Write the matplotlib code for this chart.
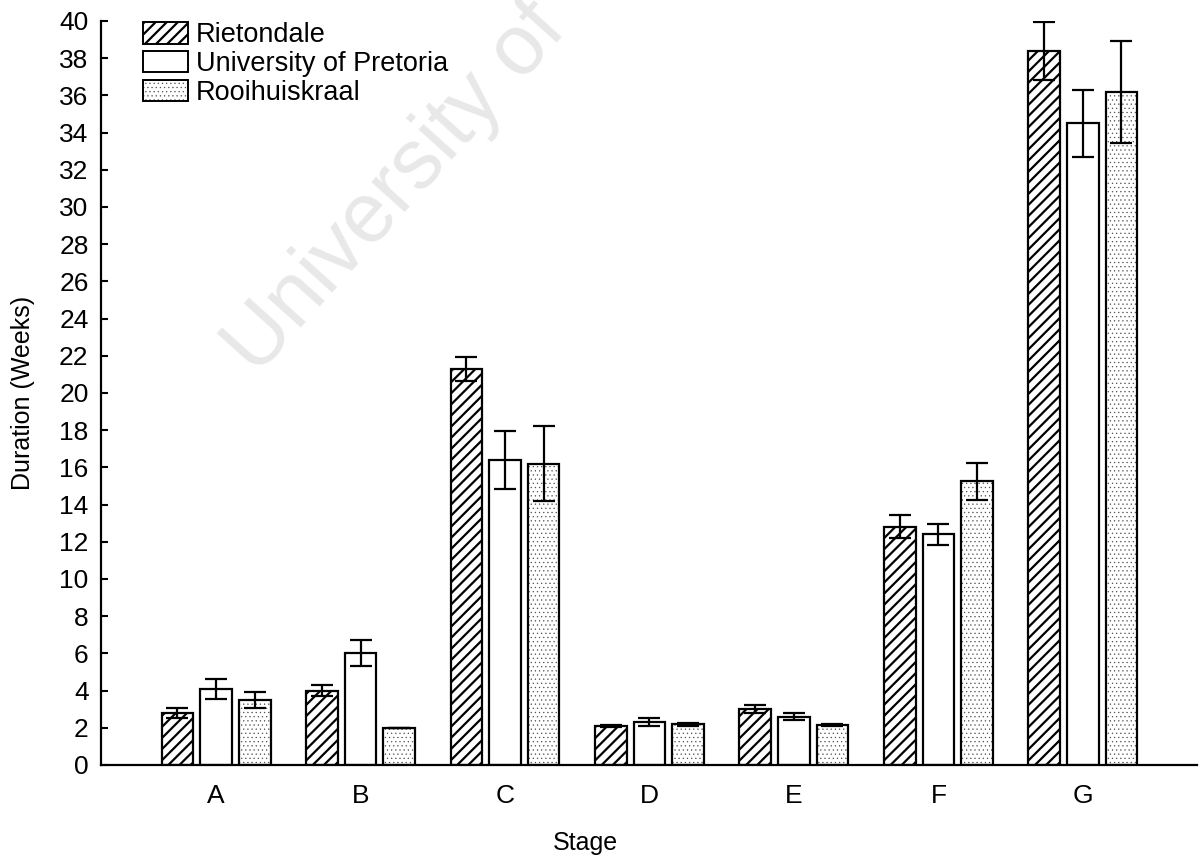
import matplotlib
matplotlib.use("Agg")
import matplotlib.pyplot as plt
from matplotlib.patches import Patch
from matplotlib.legend_handler import HandlerTuple
import numpy as np

stages = ["A", "B", "C", "D", "E", "F", "G"]
series_names = ["Rietondale", "University of Pretoria", "Rooihuiskraal"]

rietondale = [2.8, 4.0, 21.3, 2.1, 3.0, 12.8, 38.4]
rietondale_err = [0.28, 0.3, 0.65, 0.05, 0.2, 0.62, 1.55]
pretoria = [4.1, 6.0, 16.4, 2.3, 2.6, 12.4, 34.5]
pretoria_err = [0.53, 0.7, 1.57, 0.2, 0.17, 0.58, 1.8]
rooihuiskraal = [3.5, 2.0, 16.2, 2.2, 2.15, 15.25, 36.2]
rooihuiskraal_err = [0.42, 0.0, 2.0, 0.08, 0.06, 1.0, 2.75]

yticks = np.arange(0, 41, 2)

plt.rcParams['font.family'] = ['Liberation Sans', 'DejaVu Sans']
plt.rcParams['hatch.linewidth'] = 1.6

DOT_COLOR = '#505050'


def thin_hatch(artists, lw=0.4):
    # dotted fill wants finer strokes than the diagonal hatch
    for a in artists:
        if hasattr(a, 'set_hatch_linewidth'):
            a.set_hatch_linewidth(lw)


fig = plt.figure(figsize=(12, 8.57), dpi=100)
ax = fig.add_axes([0.0842, 0.1074, 0.9133, 0.8681])

# faint watermark behind everything
ax.text(0.214, 0.56, "University of Cape Town", transform=fig.transFigure,
        rotation=48, rotation_mode='anchor', ha='left', va='baseline',
        fontsize=61, color='#e8e8e8', zorder=0)
ax.patch.set_alpha(0)

x = np.arange(len(stages))
step = 0.267
width = 0.22

ax.bar(x - step, rietondale, width, facecolor='white', edgecolor='black',
       linewidth=1.6, hatch='///', zorder=2)
ax.bar(x, pretoria, width, facecolor='white', edgecolor='black',
       linewidth=1.6, zorder=2)
with plt.rc_context({'hatch.linewidth': 0.4}):
    dots = ax.bar(x + step, rooihuiskraal, width, facecolor='white', edgecolor=DOT_COLOR,
                  linewidth=0, hatch='....', zorder=2)
thin_hatch(dots)
ax.bar(x + step, rooihuiskraal, width, facecolor='none', edgecolor='black',
       linewidth=1.6, zorder=2.1)

for off, vals, err in [(-step, rietondale, rietondale_err),
                       (0, pretoria, pretoria_err),
                       (step, rooihuiskraal, rooihuiskraal_err)]:
    ax.errorbar(x + off, vals, yerr=err, fmt='none', ecolor='black',
                elinewidth=1.6, capsize=8, capthick=1.6, zorder=3)

dot_fill = Patch(facecolor='white', edgecolor=DOT_COLOR, hatch='....', linewidth=0)
thin_hatch([dot_fill])
handles = [Patch(facecolor='white', edgecolor='black', hatch='///', linewidth=1.4),
           Patch(facecolor='white', edgecolor='black', linewidth=1.4),
           (dot_fill, Patch(facecolor='none', edgecolor='black', linewidth=1.4))]
leg = ax.legend(handles, series_names, loc='upper left', frameon=False,
                bbox_to_anchor=(143 / 1200, 1 - 22 / 857), bbox_transform=fig.transFigure,
                borderpad=0, borderaxespad=0, fontsize=19.5, handlelength=1.65,
                handleheight=0.85, handletextpad=0.3, labelspacing=0.1,
                handler_map={tuple: HandlerTuple(ndivide=1, pad=0)})
for h in leg.legend_handles:
    if isinstance(h, Patch) and h.get_hatch() == '....':
        thin_hatch([h])

ax.set_xlim(-0.796, 6.79)
ax.set_ylim(0, 40)
ax.set_xticks(x)
ax.set_xticklabels(stages)
ax.set_yticks(yticks)
ax.tick_params(axis='both', direction='in', length=5, width=1.5, labelsize=19)
ax.tick_params(axis='y', pad=9)
ax.tick_params(axis='x', pad=14)

for side in ['top', 'right']:
    ax.spines[side].set_visible(False)
for side in ['left', 'bottom']:
    ax.spines[side].set_linewidth(1.6)

ax.set_xlabel("Stage", fontsize=18)
ax.set_ylabel("Duration (Weeks)", fontsize=18)
ax.xaxis.set_label_coords(0.4416, -0.089)
ax.yaxis.set_label_coords(-0.060, 0.5)

fig.savefig("out.png", dpi=100)
